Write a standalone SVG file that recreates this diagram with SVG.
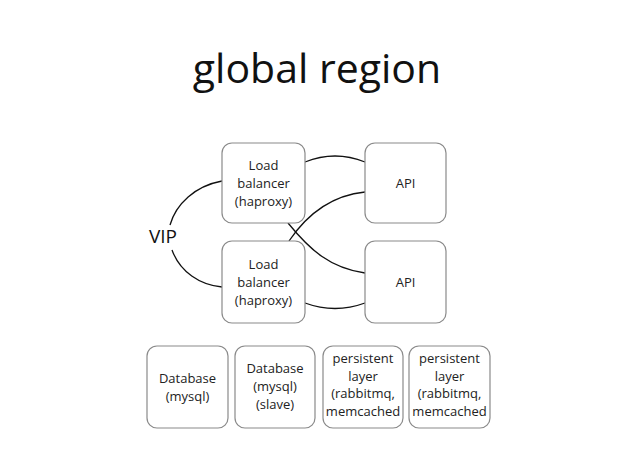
<svg xmlns="http://www.w3.org/2000/svg" width="638" height="451" viewBox="0 0 638 451">
<style>
.box{fill:#fff;stroke:#8a8a8a;stroke-width:1.2}
.t{font-family:"Open Sans","Noto Sans",sans-serif;font-size:13px;fill:#222;text-anchor:middle;dominant-baseline:central}
.c{fill:none;stroke:#111;stroke-width:1.3}
</style>
<rect width="638" height="451" fill="#fff"/>
<text x="317" y="83" font-family="'Open Sans','Noto Sans',sans-serif" font-size="41" text-anchor="middle" fill="#111">global region</text>
<g id="connectors">
<path class="c" d="M222,181 C195,186 176,204 170,225"/>
<path class="c" d="M172,250 C180,272 200,285 222,287"/>
<path class="c" d="M305,162 Q335,150 365,162"/>
<path class="c" d="M305,303 Q335,314 365,303"/>
<path class="c" d="M288,223 C310,250 330,268 365,273"/>
<path class="c" d="M289,241 C310,210 335,195 365,192"/>
</g>
<g id="vip"><text x="163" y="236" font-family="'Open Sans','Noto Sans',sans-serif" font-size="19" text-anchor="middle" dominant-baseline="central" fill="#111">VIP</text></g>
<g id="lb1"><rect class="box" x="222" y="143" width="83" height="80" rx="10"/>
<text class="t" x="263.5" y="165">Load</text><text class="t" x="263.5" y="183">balancer</text><text class="t" x="263.5" y="201">(haproxy)</text></g>
<g id="lb2"><rect class="box" x="222" y="241" width="83" height="82" rx="10"/>
<text class="t" x="263.5" y="264">Load</text><text class="t" x="263.5" y="282">balancer</text><text class="t" x="263.5" y="300">(haproxy)</text></g>
<g id="api1"><rect class="box" x="365" y="143" width="81" height="80" rx="10"/>
<text class="t" x="405.5" y="183">API</text></g>
<g id="api2"><rect class="box" x="365" y="241" width="81" height="82" rx="10"/>
<text class="t" x="405.5" y="282">API</text></g>
<g id="db1"><rect class="box" x="147" y="346" width="81" height="82" rx="10"/>
<text class="t" x="187.5" y="378">Database</text><text class="t" x="187.5" y="396">(mysql)</text></g>
<g id="db2"><rect class="box" x="235" y="346" width="80" height="82" rx="10"/>
<text class="t" x="275" y="368">Database</text><text class="t" x="275" y="386">(mysql)</text><text class="t" x="275" y="404">(slave)</text></g>
<g id="pl1"><rect class="box" x="323" y="346" width="80" height="82" rx="10"/>
<text class="t" x="363" y="358">persistent</text><text class="t" x="363" y="375.5">layer</text><text class="t" x="363" y="393">(rabbitmq,</text><text class="t" x="363" y="410.5">memcached</text></g>
<g id="pl2"><rect class="box" x="409" y="346" width="81" height="82" rx="10"/>
<text class="t" x="449.5" y="358">persistent</text><text class="t" x="449.5" y="375.5">layer</text><text class="t" x="449.5" y="393">(rabbitmq,</text><text class="t" x="449.5" y="410.5">memcached</text></g>
</svg>
